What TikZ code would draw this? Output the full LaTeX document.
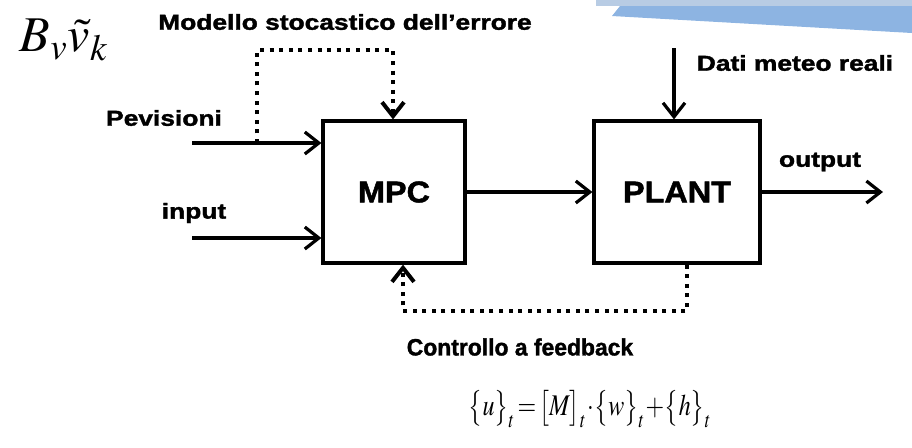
\documentclass[tikz,border=0pt]{standalone}
\usepackage{mathptmx}
\usepackage{fontspec}
\usepackage{graphicx}
\newfontfamily\sansfont{Liberation Sans}[BoldFeatures={FakeBold=1.5}]
\usetikzlibrary{arrows.meta}

\definecolor{bandlight}{RGB}{184,204,228}
\definecolor{bandblue}{RGB}{141,180,226}

% horizontally stretched label text
\newcommand{\wide}[2][1.22]{\scalebox{#1}[1]{#2}}

\begin{document}
\begin{tikzpicture}[
    x=0.5pt,
    y=-0.5pt,
    >={Straight Barb[length=7pt,width=11pt]},
    block/.style={
        draw,
        line width=1.6pt,
        minimum height=71pt,
        inner sep=0pt,
        font=\sansfont\bfseries\fontsize{15}{17}\selectfont
    },
    textline/.style={
        inner sep=0pt,
        font=\sansfont\bfseries\fontsize{10.8}{12}\selectfont
    },
    formula/.style={
        inner sep=0pt
    },
    signal/.style={
        ->,
        line width=1.6pt
    },
    feedline/.style={
        ->,
        line width=2pt,
        dash pattern=on 2pt off 2.8pt
    }
]

\useasboundingbox (0,0) rectangle (912,447);

% ==================================================
% Corner decoration
% ==================================================

\fill[bandlight] (596,0) rectangle (912,6);
\fill[bandblue] (620,6) -- (912,6) -- (912,33) -- (612,16) -- cycle;

% ==================================================
% Blocks
% ==================================================

\node[block, minimum width=71pt] (mpc) at (394,192)
    {\wide[1.08]{MPC}};

\node[block, minimum width=83pt] (plant) at (677,192)
    {\wide[1.08]{PLANT}};

% ==================================================
% Labels
% ==================================================

\node[textline] (modello) at (345,22)
    {\wide{Modello stocastico dell’errore}};

\node[textline] (dati) at (795,63)
    {\wide{Dati meteo reali}};

\node[textline] (previsioni) at (164,118)
    {\wide{Pevisioni}};

\node[textline] (input) at (194,213)
    {\wide{input}};

\node[textline, font=\sansfont\bfseries\fontsize{11.8}{13}\selectfont]
    (feedback) at (520,347) {\wide[0.97]{Controllo a feedback}};

\node[textline] (output) at (820,162)
    {\wide{output}};

\node[formula] (bvk) at (64,40)
    {\fontsize{25}{28}\selectfont$B_{v}\tilde{v}_{k}$};

\node[formula] (legge) at (590,409)
    {\fontsize{15}{18}\selectfont\wide[0.8]{%
     $\bigl\{u\bigr\}_t\!=\!\bigl[M\bigr]_t\!\cdot\!\bigl\{w\bigr\}_t\!+\!\bigl\{h\bigr\}_t$}};

% ==================================================
% Signals
% ==================================================

\coordinate (prev) at (192,143);
\coordinate (inp) at (192,238);
\coordinate (split) at (257,143);
\coordinate (errtop) at (393,50);
\coordinate (meteo) at (674,48);
\coordinate (out) at (883,192);
\coordinate (fbcorner) at (403,311);

\draw[signal] (prev) -- (prev -| mpc.west);
\draw[signal] (inp) -- (inp -| mpc.west);
\draw[signal] (mpc) -- (plant);
\draw[signal] (plant) -- (out);
\draw[signal] (meteo) -- (meteo |- plant.north);

% error model and feedback loops
\draw[feedline] (split) |- (errtop) -- (errtop |- mpc.north);
\draw[feedline] ([xshift=5pt]plant.south) |- (fbcorner) -- (fbcorner |- mpc.south);

\end{tikzpicture}
\end{document}
